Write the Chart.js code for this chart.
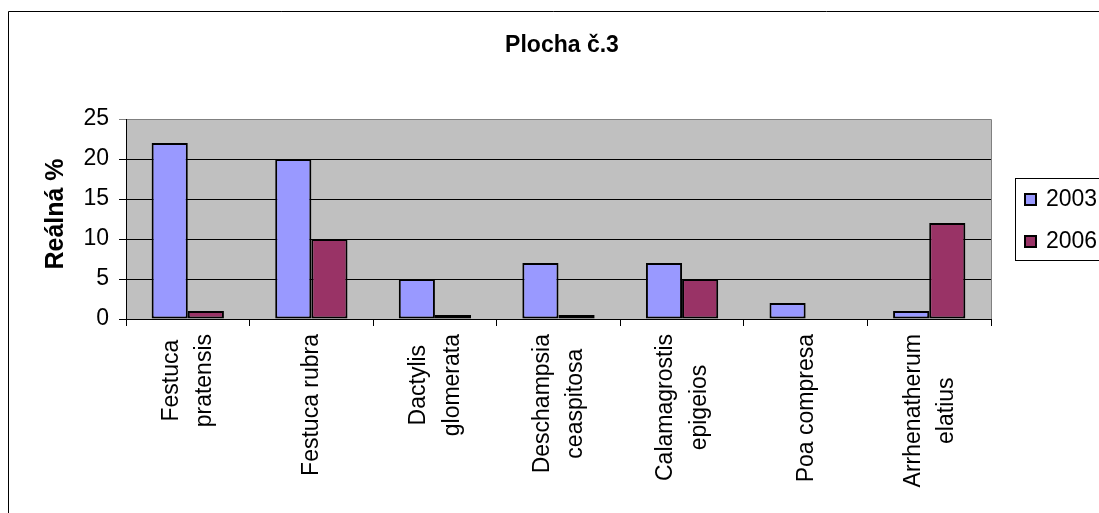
<!DOCTYPE html>
<html>
<head>
<meta charset="utf-8">
<script src="https://cdn.jsdelivr.net/npm/chart.js@4"></script>
<style>
  html, body { margin: 0; padding: 0; background: #ffffff; }
  canvas { display: block; }
</style>
</head>
<body>
<canvas id="chart" width="1099" height="513"></canvas>
<script>
// Data: species share per survey year
const chartTitle = 'Plocha č.3';
const yAxisTitle = 'Reálná %';
const species = [
  ['Festuca', 'pratensis'],
  ['Festuca rubra'],
  ['Dactylis', 'glomerata'],
  ['Deschampsia', 'ceaspitosa'],
  ['Calamagrostis', 'epigeios'],
  ['Poa compresa'],
  ['Arrhenatherum', 'elatius']
];
const seriesNames = ['2003', '2006'];
const values2003 = [22, 20, 5, 7, 7, 2, 1];
const values2006 = [1, 10, 0.5, 0.5, 5, 0, 12];
const yTicks = [0, 5, 10, 15, 20, 25];

const FONT = '"Liberation Sans", Arial, sans-serif';
const FONT_SIZE = 23;
const seriesColors = ['#9999FF', '#993366'];

// Outer frame, grey plot area and its top/right border
const backdrop = {
  id: 'backdrop',
  beforeDraw(chart) {
    const { ctx, chartArea: a } = chart;
    ctx.save();
    ctx.strokeStyle = '#000000';
    ctx.lineWidth = 1;
    ctx.beginPath();
    ctx.moveTo(8.5, chart.height);
    ctx.lineTo(8.5, 11.5);
    ctx.lineTo(chart.width, 11.5);
    ctx.stroke();

    ctx.fillStyle = '#C0C0C0';
    ctx.fillRect(a.left, a.top, a.right - a.left, a.bottom - a.top);
    ctx.strokeStyle = '#808080';
    ctx.beginPath();
    ctx.moveTo(a.left, a.top + 0.5);
    ctx.lineTo(a.right + 0.5, a.top + 0.5);
    ctx.lineTo(a.right + 0.5, a.bottom);
    ctx.stroke();
    ctx.restore();
  }
};

// Title, vertical axis title, rotated category labels and legend
const annotations = {
  id: 'annotations',
  afterDraw(chart) {
    const { ctx } = chart;
    const xScale = chart.scales.x;
    ctx.save();
    ctx.fillStyle = '#000000';

    // chart title
    ctx.font = `bold ${FONT_SIZE}px ${FONT}`;
    ctx.textAlign = 'center';
    ctx.textBaseline = 'alphabetic';
    ctx.fillText(chartTitle, 562, 52);

    // y axis title
    ctx.font = `bold 25px ${FONT}`;
    ctx.save();
    ctx.translate(63, 214);
    ctx.rotate(-Math.PI / 2);
    ctx.fillText(yAxisTitle, 0, 0);
    ctx.restore();

    // category labels, rotated, lines centred in their block
    ctx.font = `${FONT_SIZE}px ${FONT}`;
    const lineGap = 33.4;
    const labelTop = 334;
    species.forEach((lines, i) => {
      const cx = xScale.getPixelForValue(i);
      const maxW = Math.max(...lines.map(l => ctx.measureText(l).width));
      const cy = labelTop + maxW / 2;
      lines.forEach((line, k) => {
        const bx = cx + (k - (lines.length - 1) / 2) * lineGap + 7;
        ctx.save();
        ctx.translate(bx, cy);
        ctx.rotate(-Math.PI / 2);
        ctx.textAlign = 'center';
        ctx.textBaseline = 'alphabetic';
        ctx.fillText(line, 0, 0);
        ctx.restore();
      });
    });

    // legend box
    ctx.strokeStyle = '#000000';
    ctx.lineWidth = 1;
    ctx.strokeRect(1015.5, 178.5, 120, 82);
    const rowBase = [206, 248];
    seriesNames.forEach((name, i) => {
      const top = rowBase[i] - 12;
      ctx.fillStyle = seriesColors[i];
      ctx.fillRect(1025, top, 11, 11);
      ctx.lineWidth = 2;
      ctx.strokeStyle = '#000000';
      ctx.strokeRect(1025, top, 11, 11);
      ctx.fillStyle = '#000000';
      ctx.textAlign = 'left';
      ctx.textBaseline = 'alphabetic';
      ctx.fillText(name, 1046, rowBase[i]);
    });
    ctx.restore();
  }
};

new Chart(document.getElementById('chart'), {
  type: 'bar',
  data: {
    labels: species,
    datasets: [
      {
        label: seriesNames[0],
        data: values2003,
        backgroundColor: seriesColors[0],
        borderColor: '#000000',
        borderWidth: 2,
        borderSkipped: false
      },
      {
        label: seriesNames[1],
        data: values2006,
        backgroundColor: seriesColors[1],
        borderColor: '#000000',
        borderWidth: 2,
        borderSkipped: false
      }
    ]
  },
  options: {
    responsive: false,
    devicePixelRatio: 1,
    animation: false,
    events: [],
    categoryPercentage: 0.585,
    barPercentage: 1,
    layout: { padding: { top: 119, right: 108, left: 0, bottom: 0 } },
    plugins: {
      legend: { display: false },
      title: { display: false },
      tooltip: { enabled: false }
    },
    scales: {
      x: {
        offset: true,
        grid: {
          offset: true,
          drawOnChartArea: false,
          drawTicks: true,
          tickLength: 7,
          color: '#000000',
          lineWidth: 1
        },
        border: { display: true, color: '#000000', width: 1 },
        ticks: { display: false },
        afterFit(scale) { scale.height = 194; }
      },
      y: {
        min: 0,
        max: 25,
        afterBuildTicks(scale) { scale.ticks = yTicks.map(v => ({ value: v })); },
        grid: {
          color: (c) => (c.tick && c.tick.value === 25 ? '#808080' : '#000000'),
          lineWidth: 1,
          drawTicks: true,
          tickLength: 7
        },
        border: { display: true, color: '#000000', width: 1 },
        ticks: {
          color: '#000000',
          padding: 10,
          font: { family: FONT, size: FONT_SIZE }
        },
        afterFit(scale) { scale.width = 126; }
      }
    }
  },
  plugins: [backdrop, annotations]
});
</script>
</body>
</html>
